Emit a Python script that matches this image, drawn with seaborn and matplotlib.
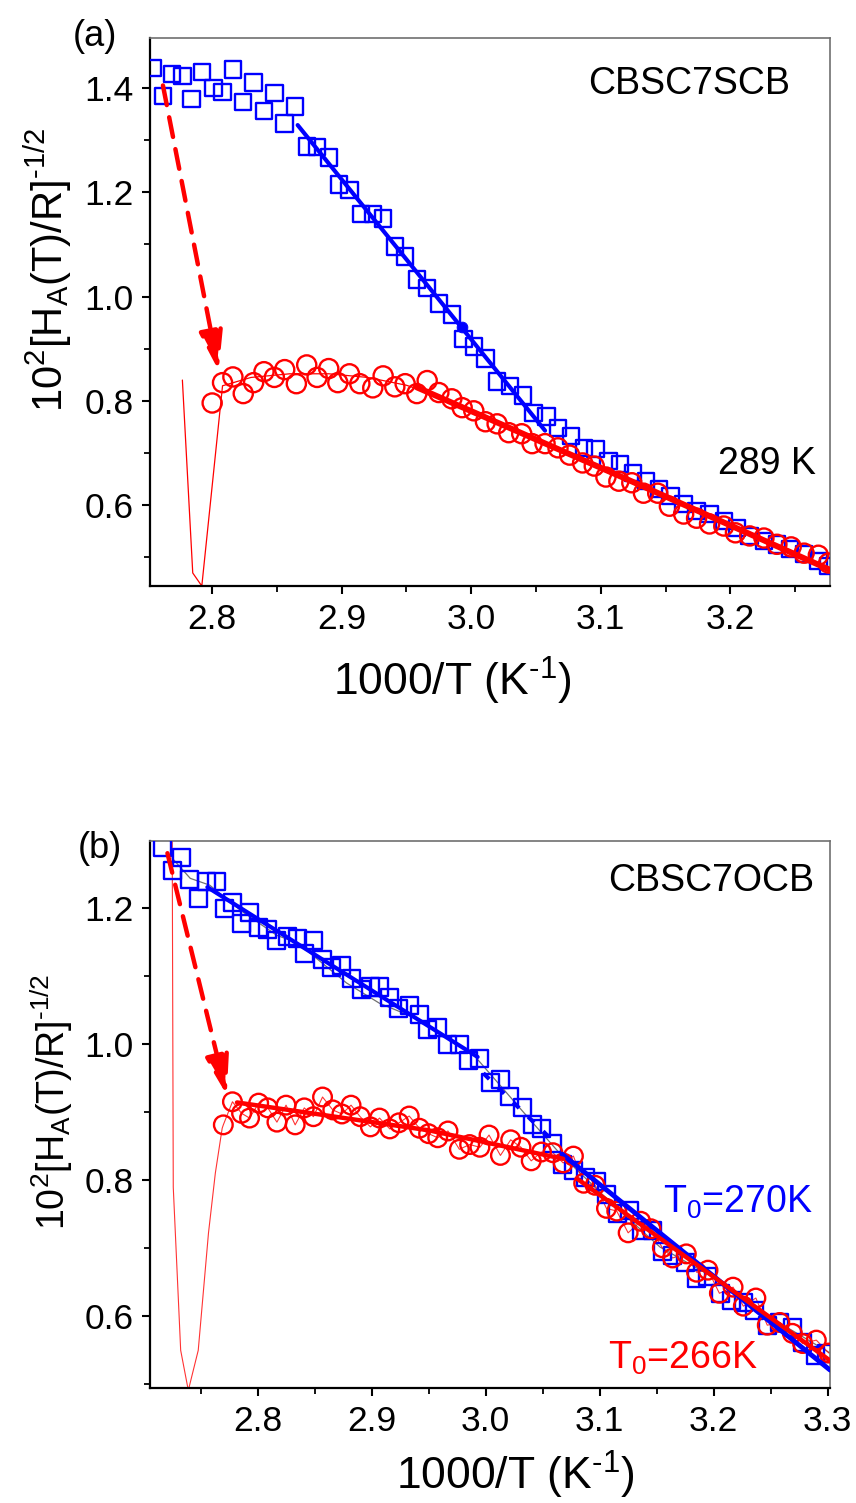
import numpy as np
import pandas as pd
import matplotlib
matplotlib.use("Agg")
import matplotlib.pyplot as plt
import seaborn as sns
from matplotlib.ticker import MultipleLocator

# ---------------- panel (a) data : CBSC7SCB ----------------
xa_sq = [2.754, 2.762, 2.769, 2.777, 2.784, 2.792, 2.801, 2.808, 2.816, 2.824,
         2.832, 2.840, 2.848, 2.856, 2.864, 2.873, 2.881, 2.890, 2.898, 2.906,
         2.915, 2.924, 2.932, 2.941, 2.949, 2.958, 2.966, 2.975, 2.985, 2.994,
         3.002, 3.011, 3.020, 3.030, 3.040, 3.048, 3.058, 3.067, 3.077, 3.087,
         3.096, 3.106, 3.115, 3.125, 3.135, 3.145, 3.154, 3.164, 3.174, 3.184,
         3.195, 3.205, 3.215, 3.226, 3.236, 3.246, 3.257, 3.268, 3.276]
ya_sq = [1.438, 1.385, 1.427, 1.423, 1.379, 1.431, 1.400, 1.392, 1.436, 1.373,
         1.411, 1.356, 1.390, 1.332, 1.365, 1.288, 1.287, 1.267, 1.215, 1.204,
         1.158, 1.158, 1.150, 1.096, 1.077, 1.033, 1.017, 0.987, 0.966, 0.919,
         0.904, 0.881, 0.837, 0.829, 0.810, 0.777, 0.770, 0.748, 0.733, 0.710,
         0.708, 0.685, 0.679, 0.662, 0.646, 0.631, 0.618, 0.602, 0.589, 0.583,
         0.570, 0.556, 0.541, 0.531, 0.525, 0.516, 0.506, 0.493, 0.483]

xa_ci = [2.800, 2.808, 2.816, 2.824, 2.832, 2.840, 2.848, 2.856, 2.865, 2.873,
         2.881, 2.890, 2.897, 2.906, 2.914, 2.924, 2.932, 2.941, 2.949, 2.958,
         2.966, 2.975, 2.985, 2.993, 3.002, 3.011, 3.020, 3.029, 3.039, 3.047,
         3.057, 3.067, 3.076, 3.086, 3.095, 3.104, 3.114, 3.124, 3.133, 3.144,
         3.153, 3.164, 3.174, 3.184, 3.195, 3.204, 3.215, 3.226, 3.236, 3.247,
         3.257, 3.268, 3.276]
ya_ci = [0.796, 0.835, 0.846, 0.814, 0.835, 0.856, 0.845, 0.860, 0.833, 0.869,
         0.845, 0.862, 0.835, 0.852, 0.833, 0.825, 0.848, 0.827, 0.833, 0.814,
         0.839, 0.816, 0.804, 0.787, 0.781, 0.760, 0.756, 0.739, 0.737, 0.718,
         0.718, 0.710, 0.696, 0.681, 0.675, 0.654, 0.646, 0.643, 0.623, 0.623,
         0.598, 0.583, 0.575, 0.564, 0.560, 0.547, 0.541, 0.537, 0.525, 0.520,
         0.508, 0.504, 0.489]

xa_bfit = [2.866, 3.057]
ya_bfit = [1.329, 0.743]
xa_bdot = [2.993]
ya_bdot = [0.941]
xa_rfit = [2.958, 3.120, 3.277]
ya_rfit = [0.826, 0.650, 0.476]
xa_rthin = [2.777, 2.785, 2.792, 2.808, 2.830, 2.860, 2.890, 2.920, 2.950,
            2.980, 3.020, 3.100, 3.200, 3.277]
ya_rthin = [0.840, 0.470, 0.445, 0.829, 0.845, 0.852, 0.852, 0.845, 0.830,
            0.805, 0.762, 0.668, 0.560, 0.478]
arrow_a = [(2.762, 1.405), (2.805, 0.858)]

# ---------------- panel (b) data : CBSC7OCB ----------------
xb_sq = [2.717, 2.725, 2.733, 2.740, 2.748, 2.755, 2.764, 2.771, 2.778, 2.786,
         2.793, 2.801, 2.809, 2.817, 2.826, 2.835, 2.841, 2.849, 2.857, 2.865,
         2.874, 2.882, 2.891, 2.899, 2.907, 2.916, 2.924, 2.933, 2.942, 2.949,
         2.958, 2.967, 2.977, 2.985, 2.995, 3.004, 3.013, 3.021, 3.032, 3.041,
         3.049, 3.059, 3.067, 3.077, 3.088, 3.097, 3.106, 3.116, 3.126, 3.137,
         3.146, 3.155, 3.164, 3.175, 3.185, 3.195, 3.206, 3.216, 3.226, 3.236,
         3.247, 3.258, 3.269, 3.278, 3.289, 3.299]
yb_sq = [1.290, 1.256, 1.274, 1.243, 1.215, 1.240, 1.239, 1.200, 1.209, 1.178,
         1.193, 1.172, 1.168, 1.152, 1.158, 1.156, 1.134, 1.152, 1.125, 1.112,
         1.116, 1.096, 1.080, 1.084, 1.084, 1.068, 1.053, 1.057, 1.043, 1.021,
         1.024, 0.999, 0.999, 0.976, 0.979, 0.943, 0.948, 0.923, 0.907, 0.881,
         0.876, 0.854, 0.822, 0.814, 0.803, 0.797, 0.778, 0.751, 0.755, 0.726,
         0.726, 0.694, 0.689, 0.679, 0.655, 0.658, 0.633, 0.623, 0.620, 0.608,
         0.586, 0.590, 0.582, 0.561, 0.542, 0.545]

xb_ci = [2.770, 2.778, 2.786, 2.793, 2.801, 2.809, 2.817, 2.825, 2.833, 2.841,
         2.849, 2.857, 2.866, 2.874, 2.882, 2.890, 2.899, 2.907, 2.916, 2.924,
         2.933, 2.942, 2.950, 2.958, 2.967, 2.977, 2.986, 2.995, 3.003, 3.013,
         3.022, 3.031, 3.040, 3.049, 3.059, 3.068, 3.077, 3.086, 3.096, 3.106,
         3.115, 3.125, 3.136, 3.145, 3.155, 3.164, 3.176, 3.185, 3.195, 3.205,
         3.217, 3.226, 3.237, 3.247, 3.258, 3.269, 3.278, 3.290, 3.301]
yb_ci = [0.881, 0.915, 0.898, 0.891, 0.913, 0.906, 0.885, 0.910, 0.881, 0.906,
         0.893, 0.922, 0.903, 0.897, 0.910, 0.893, 0.878, 0.891, 0.875, 0.884,
         0.894, 0.876, 0.868, 0.862, 0.872, 0.845, 0.852, 0.848, 0.866, 0.836,
         0.859, 0.848, 0.828, 0.841, 0.840, 0.825, 0.835, 0.795, 0.792, 0.758,
         0.754, 0.722, 0.739, 0.728, 0.700, 0.685, 0.691, 0.664, 0.667, 0.633,
         0.642, 0.614, 0.626, 0.586, 0.590, 0.574, 0.559, 0.564, 0.545]

xb_bfit1 = [2.756, 2.993]
yb_bfit1 = [1.231, 0.981]
xb_bdash = [2.998, 3.055]
yb_bdash = [0.957, 0.864]
xb_bfit2 = [3.067, 3.302]
yb_bfit2 = [0.838, 0.520]
xb_rfit1 = [2.782, 2.950, 3.068]
yb_rfit1 = [0.914, 0.873, 0.831]
xb_rfit2 = [3.080, 3.302]
yb_rfit2 = [0.802, 0.534]
xb_gray = [2.725, 2.741, 2.758, 2.785, 2.817, 2.835, 2.878, 2.907, 2.936,
           2.989, 3.033, 3.065, 3.112, 3.153, 3.199, 3.243, 3.302]
yb_gray = [1.274, 1.244, 1.234, 1.197, 1.160, 1.149, 1.090, 1.060, 1.040,
           0.985, 0.900, 0.839, 0.763, 0.701, 0.657, 0.604, 0.545]
xb_spike = [2.7250, 2.7261, 2.7326, 2.7393, 2.7480, 2.7570, 2.7630, 2.7690]
yb_spike = [1.400, 0.789, 0.549, 0.490, 0.549, 0.722, 0.810, 0.876]
arrow_b = [(2.721, 1.281), (2.773, 0.925)]

BLUE = "#0000ff"
RED = "#ff0000"

sns.set_theme(style="ticks")
plt.rcParams['font.family'] = ['Liberation Sans', 'DejaVu Sans']
plt.rcParams['mathtext.fontset'] = 'custom'
plt.rcParams['mathtext.rm'] = 'Liberation Sans'
plt.rcParams['mathtext.it'] = 'Liberation Sans'
plt.rcParams['mathtext.default'] = 'regular'
plt.rcParams['text.color'] = 'black'
plt.rcParams['axes.labelcolor'] = 'black'
plt.rcParams['xtick.color'] = 'black'
plt.rcParams['ytick.color'] = 'black'

fig = plt.figure(figsize=(8.56, 15.03), dpi=100)
W, H = 856, 1503
ax1 = fig.add_axes([150 / W, 1 - 586 / H, 680 / W, 548 / H])
ax2 = fig.add_axes([150 / W, 1 - 1388 / H, 680 / W, 547 / H])

XLABEL = r"1000/T (K$^{\text{-}1}$)"
YLABEL = r"$10^2[H_A(T)/R]^{\text{-}1/2}$"


def style_axes(ax, xlim, ylim, xticks, yticks):
    ax.set_xlim(*xlim)
    ax.set_ylim(*ylim)
    ax.set_xticks(xticks)
    ax.set_yticks(yticks)
    ax.xaxis.set_minor_locator(MultipleLocator(0.05))
    ax.yaxis.set_minor_locator(MultipleLocator(0.1))
    ax.tick_params(axis="both", which="major", direction="out", length=6,
                   width=1.5, labelsize=25.5, color="black", labelcolor="black",
                   pad=6)
    ax.tick_params(axis="both", which="minor", direction="out", length=4,
                   width=1.3, color="black")
    ax.tick_params(top=False, right=False, which="both")
    for s in ["left", "bottom"]:
        ax.spines[s].set_color("black")
        ax.spines[s].set_linewidth(1.6)
    for s in ["top", "right"]:
        ax.spines[s].set_color("#707070")
        ax.spines[s].set_linewidth(1.2)
    ax.set_xticklabels([f"{v:.1f}" for v in xticks])
    ax.set_yticklabels([f"{v:.1f}" for v in yticks])


def arrow(ax, pts):
    (x0, y0), (x1, y1) = pts
    ax.annotate("", xy=(x1, y1), xytext=(x0, y0),
                arrowprops=dict(arrowstyle="-|>,head_length=1.0,head_width=0.3",
                                color=RED, lw=3.2, linestyle=(0, (4.5, 2.8)),
                                mutation_scale=24, shrinkA=0, shrinkB=0),
                zorder=6)


# ----- panel (a) -----
ax = ax1
sns.lineplot(x=xa_rthin, y=ya_rthin, ax=ax, color=RED, linewidth=0.9,
             sort=False, estimator=None, zorder=2)
sns.scatterplot(x=xa_sq, y=ya_sq, ax=ax, marker="s", s=140, facecolor="none",
                edgecolor=BLUE, linewidth=1.7, zorder=3)
sns.scatterplot(x=xa_ci, y=ya_ci, ax=ax, marker="o", s=190, facecolor="none",
                edgecolor=RED, linewidth=1.7, zorder=3)
sns.lineplot(x=xa_bfit, y=ya_bfit, ax=ax, color=BLUE, linewidth=3.0,
             sort=False, estimator=None, zorder=4)
sns.scatterplot(x=xa_bdot, y=ya_bdot, ax=ax, marker="o", s=60, color=BLUE,
                edgecolor=BLUE, zorder=5)
sns.lineplot(x=xa_rfit, y=ya_rfit, ax=ax, color=RED, linewidth=4.3,
             sort=False, estimator=None, zorder=4)
arrow(ax, arrow_a)
style_axes(ax, (2.752, 3.277), (0.445, 1.496),
           [2.8, 2.9, 3.0, 3.1, 3.2], [0.6, 0.8, 1.0, 1.2, 1.4])
ax.set_xlabel(XLABEL, fontsize=32)
ax.xaxis.set_label_coords(0.444, -0.125)
ax.set_ylabel(YLABEL, fontsize=30)
ax.yaxis.set_label_coords(-0.112, 0.577)
ax.text(0.793, 0.916, "CBSC7SCB", transform=ax.transAxes, fontsize=27,
        ha="center", va="center", color="black")
ax.text(0.907, 0.223, "289 K", transform=ax.transAxes, fontsize=27,
        ha="center", va="center", color="black")

# ----- panel (b) -----
ax = ax2
sns.lineplot(x=xb_gray, y=yb_gray, ax=ax, color="#707070", linewidth=0.9,
             sort=False, estimator=None, zorder=2)
sns.lineplot(x=xb_spike + xb_ci, y=yb_spike + yb_ci, ax=ax, color=RED,
             linewidth=0.8, alpha=0.8, sort=False, estimator=None, zorder=2)
sns.scatterplot(x=xb_sq, y=yb_sq, ax=ax, marker="s", s=150, facecolor="none",
                edgecolor=BLUE, linewidth=1.7, zorder=3)
sns.scatterplot(x=xb_ci, y=yb_ci, ax=ax, marker="o", s=180, facecolor="none",
                edgecolor=RED, linewidth=1.7, zorder=3)
sns.lineplot(x=xb_bfit1, y=yb_bfit1, ax=ax, color=BLUE, linewidth=3.0,
             sort=False, estimator=None, zorder=4)
sns.lineplot(x=xb_bdash, y=yb_bdash, ax=ax, color=BLUE, linewidth=3.0,
             linestyle=(0, (2.0, 3.0)), sort=False, estimator=None, zorder=4)
sns.lineplot(x=xb_bfit2, y=yb_bfit2, ax=ax, color=BLUE, linewidth=3.5,
             sort=False, estimator=None, zorder=4)
sns.lineplot(x=xb_rfit1, y=yb_rfit1, ax=ax, color=RED, linewidth=3.2,
             sort=False, estimator=None, zorder=4)
sns.lineplot(x=xb_rfit2, y=yb_rfit2, ax=ax, color=RED, linewidth=3.2,
             sort=False, estimator=None, zorder=4)
arrow(ax, arrow_b)
style_axes(ax, (2.7057, 3.302), (0.4935, 1.299),
           [2.8, 2.9, 3.0, 3.1, 3.2, 3.3], [0.6, 0.8, 1.0, 1.2])
ax.set_xlabel(XLABEL, fontsize=32)
ax.xaxis.set_label_coords(0.537, -0.112)
ax.set_ylabel(YLABEL, fontsize=27)
ax.yaxis.set_label_coords(-0.110, 0.523)
ax.text(0.825, 0.927, "CBSC7OCB", transform=ax.transAxes, fontsize=27,
        ha="center", va="center", color="black")
ax.text(0.865, 0.32, "T$_0$=270K", transform=ax.transAxes, fontsize=27,
        ha="center", va="baseline", color=BLUE)
ax.text(0.784, 0.035, "T$_0$=266K", transform=ax.transAxes, fontsize=27,
        ha="center", va="baseline", color=RED)

fig.text(95 / W, 1 - 36 / H, "(a)", fontsize=26, ha="center", va="center")
fig.text(100 / W, 1 - 848 / H, "(b)", fontsize=26, ha="center", va="center")

fig.savefig("out.png", dpi=100)
